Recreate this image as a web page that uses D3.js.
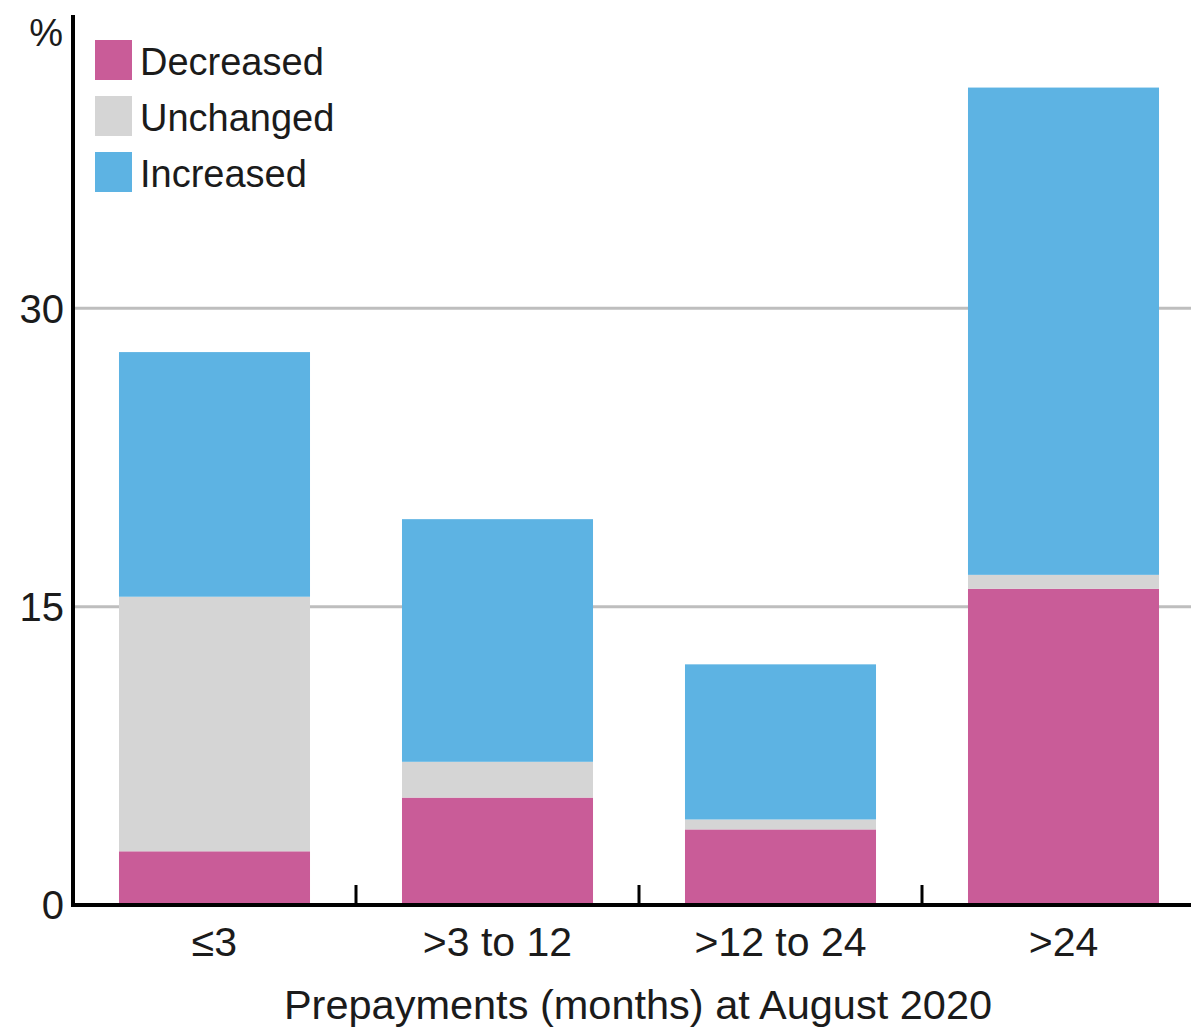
<!DOCTYPE html>
<html>
<head>
<meta charset="utf-8">
<script src="https://cdn.jsdelivr.net/npm/d3@7"></script>
<style>
  html, body { margin: 0; padding: 0; background: #fff; }
  svg { display: block; font-family: "Liberation Sans", Arial, sans-serif; }
</style>
</head>
<body>
<svg id="chart" width="1191" height="1027"></svg>
<script>
// Share of borrowers by change in prepayment, grouped by prepayment buffer
const categories = ["≤3", ">3 to 12", ">12 to 24", ">24"];
const decreased = [2.7, 5.4, 3.8, 15.9];
const unchanged = [12.8, 1.8, 0.5, 0.7];
const increased = [12.3, 12.2, 7.8, 24.5];
const seriesNames = ["Decreased", "Unchanged", "Increased"];
const seriesColors = ["#C95C98", "#D5D5D5", "#5DB3E3"];
const yTicks = [0, 15, 30];
const yUnit = "%";
const xTitle = "Prepayments (months) at August 2020";

const rows = categories.map((c, i) => ({
  cat: c,
  Decreased: decreased[i],
  Unchanged: unchanged[i],
  Increased: increased[i]
}));
const stacked = d3.stack().keys(seriesNames)(rows);

const svg = d3.select("#chart");
const x = d3.scaleBand().domain(categories).range([73, 1205])
  .paddingInner(0.325).paddingOuter(0.1625);
const y = d3.scaleLinear().domain([0, 45]).range([905, 10]);
const textColor = "#1b1b1b";

// horizontal gridlines
svg.append("g").selectAll("line")
  .data(yTicks.filter(t => t > 0))
  .join("line")
  .attr("x1", 75).attr("x2", 1191)
  .attr("y1", d => y(d)).attr("y2", d => y(d))
  .attr("stroke", "#BEBEBE").attr("stroke-width", 3);

// stacked bars
svg.append("g").selectAll("g")
  .data(stacked)
  .join("g")
  .attr("fill", (d, i) => seriesColors[i])
  .selectAll("rect")
  .data(d => d)
  .join("rect")
  .attr("x", d => x(d.data.cat))
  .attr("width", x.bandwidth())
  .attr("y", d => y(d[1]))
  .attr("height", d => y(d[0]) - y(d[1]));

// y axis line
svg.append("line")
  .attr("x1", 73).attr("x2", 73)
  .attr("y1", 15).attr("y2", 906)
  .attr("stroke", "#000").attr("stroke-width", 4);

// x axis line
svg.append("line")
  .attr("x1", 71).attr("x2", 1191)
  .attr("y1", y(0)).attr("y2", y(0))
  .attr("stroke", "#000").attr("stroke-width", 4);

// category separators (ticks between bands)
const step = x.step();
svg.append("g").selectAll("line")
  .data(categories.slice(1))
  .join("line")
  .attr("x1", d => x(d) - step * x.paddingInner() / 2)
  .attr("x2", d => x(d) - step * x.paddingInner() / 2)
  .attr("y1", 885).attr("y2", y(0))
  .attr("stroke", "#000").attr("stroke-width", 3);

// y tick labels
svg.append("g").selectAll("text")
  .data(yTicks)
  .join("text")
  .attr("x", 64)
  .attr("y", d => y(d))
  .attr("dy", "0.36em")
  .attr("text-anchor", "end")
  .attr("font-size", 40)
  .attr("fill", textColor)
  .text(d => d);

// unit label
svg.append("text")
  .attr("x", 63).attr("y", 46)
  .attr("text-anchor", "end")
  .attr("font-size", 38)
  .attr("fill", textColor)
  .text(yUnit);

// category labels
svg.append("g").selectAll("text")
  .data(categories)
  .join("text")
  .attr("x", d => x(d) + x.bandwidth() / 2)
  .attr("y", 956)
  .attr("text-anchor", "middle")
  .attr("font-size", 41)
  .attr("fill", textColor)
  .text(d => d);

// x axis title
svg.append("text")
  .attr("x", 638).attr("y", 1019)
  .attr("text-anchor", "middle")
  .attr("font-size", 41.5)
  .attr("fill", textColor)
  .text(xTitle);

// legend
const legend = svg.append("g").selectAll("g")
  .data(seriesNames)
  .join("g")
  .attr("transform", (d, i) => `translate(95, ${40 + i * 56})`);
legend.append("rect")
  .attr("width", 37).attr("height", 40)
  .attr("fill", (d, i) => seriesColors[i]);
legend.append("text")
  .attr("x", 45).attr("y", 35)
  .attr("font-size", 38)
  .attr("fill", textColor)
  .text(d => d);
</script>
</body>
</html>
